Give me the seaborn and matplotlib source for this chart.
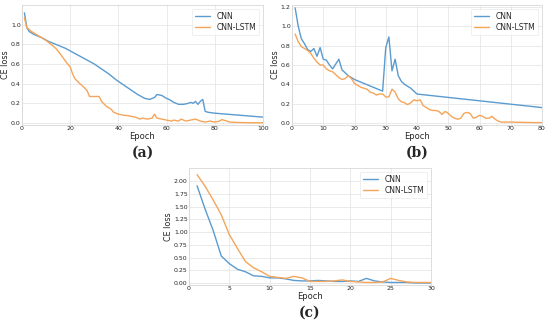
"""
plot.py
CE loss curves of CNN vs CNN-LSTM for three training runs (a), (b), (c).
"""
import numpy as np
import pandas as pd
import matplotlib
matplotlib.use("Agg")
import matplotlib.pyplot as plt
import seaborn as sns

# ---- data ------------------------------------------------------------------
series_names = ["CNN", "CNN-LSTM"]
panel_labels = ["(a)", "(b)", "(c)"]

# (a) 100 epochs
a_cnn_epoch = [1, 2, 3, 5, 8, 11, 14, 18, 21, 24, 27, 30, 33, 36, 39, 42, 45,
               48, 51, 53, 55, 56, 58, 60, 61, 63, 65, 67, 69, 70, 71, 72, 73,
               74, 75, 76, 77, 80, 85, 90, 95, 100]
a_cnn_loss = [1.12, 0.97, 0.93, 0.90, 0.87, 0.83, 0.80, 0.76, 0.72, 0.68, 0.64,
              0.60, 0.55, 0.50, 0.44, 0.39, 0.34, 0.29, 0.25, 0.24, 0.26, 0.29,
              0.28, 0.25, 0.24, 0.21, 0.19, 0.19, 0.20, 0.21, 0.20, 0.22, 0.19,
              0.22, 0.24, 0.12, 0.11, 0.10, 0.09, 0.08, 0.07, 0.06]
a_lstm_epoch = [1, 2, 4, 6, 8, 10, 12, 14, 16, 18, 20, 21, 22, 24, 25, 27, 28,
                30, 32, 33, 35, 37, 38, 39, 40, 42, 44, 45, 47, 49, 50, 52, 54,
                55, 56, 58, 60, 62, 63, 65, 66, 68, 70, 72, 74, 76, 78, 80, 82,
                83, 85, 86, 90, 95, 100]
a_lstm_loss = [1.07, 0.97, 0.93, 0.90, 0.87, 0.84, 0.80, 0.76, 0.70, 0.63, 0.57,
               0.50, 0.45, 0.40, 0.38, 0.33, 0.27, 0.27, 0.27, 0.22, 0.17, 0.14,
               0.11, 0.10, 0.09, 0.08, 0.075, 0.07, 0.06, 0.04, 0.05, 0.04, 0.05,
               0.09, 0.05, 0.04, 0.03, 0.02, 0.03, 0.02, 0.04, 0.02, 0.03, 0.04,
               0.02, 0.01, 0.02, 0.01, 0.02, 0.035, 0.02, 0.01, 0.005, 0.003,
               0.002]

# (b) 80 epochs
b_cnn_epoch = [1, 2, 3, 4, 5, 6, 7, 8, 9, 10, 11, 12, 13, 14, 15, 16, 17, 18,
               19, 20, 29, 30, 31, 32, 33, 34, 35, 36, 37, 38, 39, 40, 80]
b_cnn_loss = [1.19, 1.00, 0.87, 0.82, 0.76, 0.74, 0.77, 0.69, 0.78, 0.66, 0.65,
              0.60, 0.56, 0.61, 0.66, 0.55, 0.52, 0.49, 0.47, 0.45, 0.33, 0.78,
              0.89, 0.54, 0.66, 0.49, 0.43, 0.40, 0.38, 0.36, 0.33, 0.30, 0.16]
b_lstm_epoch = list(range(1, 81))
b_lstm_loss = [0.92, 0.84, 0.79, 0.77, 0.75, 0.72, 0.67, 0.63, 0.60, 0.60,
               0.56, 0.54, 0.53, 0.50, 0.47, 0.45, 0.46, 0.49, 0.46, 0.41,
               0.39, 0.37, 0.36, 0.35, 0.32, 0.31, 0.29, 0.30, 0.30, 0.27,
               0.27, 0.35, 0.32, 0.25, 0.22, 0.21, 0.19, 0.21, 0.24, 0.23,
               0.24, 0.18, 0.16, 0.14, 0.13, 0.13, 0.12, 0.09, 0.12, 0.10,
               0.07, 0.05, 0.04, 0.05, 0.10, 0.11, 0.10, 0.05, 0.06, 0.08,
               0.07, 0.05, 0.05, 0.07, 0.04, 0.02, 0.01, 0.01, 0.01, 0.01,
               0.01, 0.008, 0.008, 0.007, 0.006, 0.006, 0.005, 0.005, 0.005, 0.005]

# (c) 30 epochs
c_epoch = list(range(1, 31))
c_cnn_loss = [1.91, 1.45, 1.03, 0.53, 0.38, 0.27, 0.22, 0.14, 0.13, 0.10,
              0.10, 0.08, 0.05, 0.04, 0.04, 0.05, 0.04, 0.03, 0.03, 0.04,
              0.03, 0.09, 0.04, 0.02, 0.01, 0.01, 0.01, 0.0, 0.0, 0.0]
c_lstm_loss = [2.13, 1.90, 1.63, 1.34, 0.95, 0.68, 0.42, 0.30, 0.22, 0.13,
               0.11, 0.09, 0.13, 0.10, 0.03, 0.03, 0.03, 0.04, 0.06, 0.03,
               0.02, 0.01, 0.01, 0.02, 0.09, 0.05, 0.02, 0.01, 0.01, 0.01]

# ---- style -----------------------------------------------------------------
sns.set_theme(style="whitegrid")
plt.rcParams["font.family"] = ["DejaVu Sans"]
palette = {"CNN": "#5a9bd0", "CNN-LSTM": "#f5a55a"}


def to_frame(cnn_x, cnn_y, lstm_x, lstm_y):
    cnn = pd.DataFrame({"Epoch": cnn_x, "loss": cnn_y, "model": "CNN"})
    lstm = pd.DataFrame({"Epoch": lstm_x, "loss": lstm_y, "model": "CNN-LSTM"})
    return pd.concat([cnn, lstm], ignore_index=True)


def draw(ax, df, xlim, ylim, xticks, yticks, yfmt, label):
    sns.lineplot(data=df, x="Epoch", y="loss", hue="model", palette=palette,
                 linewidth=1.0, ax=ax, sort=False)
    ax.set_xlim(*xlim)
    ax.set_ylim(*ylim)
    ax.set_xticks(xticks)
    ax.set_yticks(yticks)
    ax.set_yticklabels([yfmt.format(v) for v in yticks])
    ax.tick_params(labelsize=4.5, pad=1, length=0)
    ax.set_xlabel("Epoch", fontsize=6, labelpad=0.5)
    ax.set_ylabel("CE loss", fontsize=5.8, labelpad=0.5)
    ax.grid(color="#e6e6e6", linewidth=0.6)
    for s in ax.spines.values():
        s.set_color("#d8d8d8")
        s.set_linewidth(0.6)
    leg = ax.legend(title=None, fontsize=5.5, loc="upper right",
                    frameon=True, handlelength=2.0, borderpad=0.4,
                    labelspacing=0.3)
    leg.get_frame().set_edgecolor("#e4e4e4")
    leg.get_frame().set_linewidth(0.5)
    ax.annotate(label, xy=(0.5, 0), xycoords="axes fraction",
                xytext=(0, -20), textcoords="offset points",
                ha="center", va="center", fontsize=10,
                family="DejaVu Serif", weight="bold")


W, H = 550, 322
fig = plt.figure(figsize=(W / 100, H / 100), dpi=100)


def add_axes(l, t, r, b):
    return fig.add_axes([l / W, 1 - b / H, (r - l) / W, (b - t) / H])


ax_a = add_axes(22, 5, 263, 125)
ax_b = add_axes(292, 5, 542, 125)
ax_c = add_axes(189, 168, 431, 285)

draw(ax_a, to_frame(a_cnn_epoch, a_cnn_loss, a_lstm_epoch, a_lstm_loss),
     (0, 100), (-0.02, 1.2), [0, 20, 40, 60, 80, 100],
     [0.0, 0.2, 0.4, 0.6, 0.8, 1.0], "{:.1f}", panel_labels[0])
draw(ax_b, to_frame(b_cnn_epoch, b_cnn_loss, b_lstm_epoch, b_lstm_loss),
     (0, 80), (-0.02, 1.22), [0, 10, 20, 30, 40, 50, 60, 70, 80],
     [0.0, 0.2, 0.4, 0.6, 0.8, 1.0, 1.2], "{:.1f}", panel_labels[1])
draw(ax_c, to_frame(c_epoch, c_cnn_loss, c_epoch, c_lstm_loss),
     (0, 30), (-0.04, 2.26), [0, 5, 10, 15, 20, 25, 30],
     [0.0, 0.25, 0.5, 0.75, 1.0, 1.25, 1.5, 1.75, 2.0], "{:.2f}", panel_labels[2])

fig.savefig("out.png", dpi=100)
